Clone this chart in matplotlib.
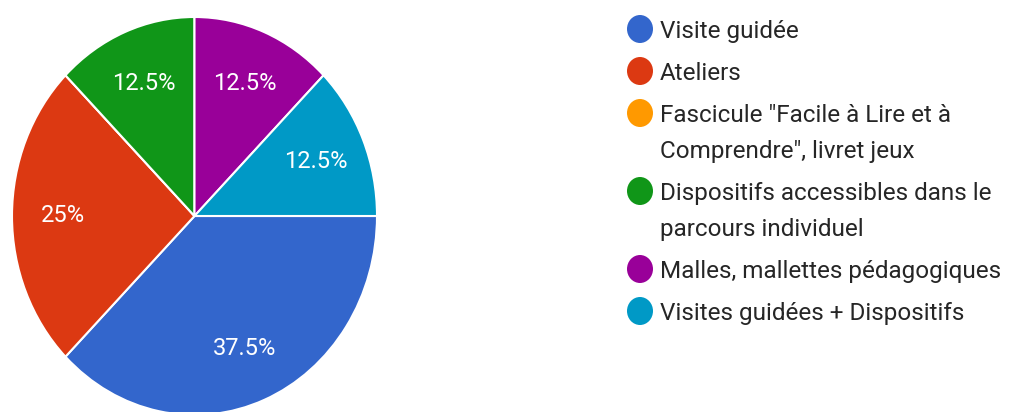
import matplotlib
matplotlib.use("Agg")
import matplotlib.pyplot as plt
from matplotlib.patches import Ellipse

categories = ["Visite guidée", "Ateliers", "Fascicule \"Facile à Lire et à\nComprendre\", livret jeux",
              "Dispositifs accessibles dans le\nparcours individuel", "Malles, mallettes pédagogiques",
              "Visites guidées + Dispositifs"]
values = [37.5, 25, 0, 12.5, 12.5, 12.5]
colors = ["#3366cc", "#dc3912", "#ff9900", "#109618", "#990099", "#0099c6"]

plt.rcParams['font.family'] = ['Roboto', 'DejaVu Sans']

fig = plt.figure(figsize=(10.09, 4.12), dpi=100)
fig.patch.set_facecolor("white")
ax = fig.add_axes([12/1009, -3/412, 365/1009, 398/412])

def fmt(p):
    return "" if p < 0.5 else (f"{p:.1f}%" if p % 1 else f"{p:.0f}%")

wedges, texts, autotexts = ax.pie(values, colors=colors, startangle=0, counterclock=False,
                                  autopct=fmt, pctdistance=0.72,
                                  wedgeprops=dict(edgecolor="white", linewidth=1.5),
                                  textprops=dict(color="white", fontsize=17))
ax.set_aspect('auto')
ax.set_xlim(-1, 1)
ax.set_ylim(-1, 1)
ax.axis('off')

# legend drawn manually
y = 29
for cat, col in zip(categories, colors):
    fig.patches.append(Ellipse((640/1009, 1 - y/412), 26/1009, 28/412,
                               transform=fig.transFigure, facecolor=col, edgecolor='none'))
    for i, line in enumerate(cat.split("\n")):
        if i > 0:
            y += 36
        fig.text(660/1009, 1 - y/412, line, fontsize=17.5, color="#262626", va="center_baseline")
    y += 42

fig.savefig("out.png", dpi=100, facecolor="white")
